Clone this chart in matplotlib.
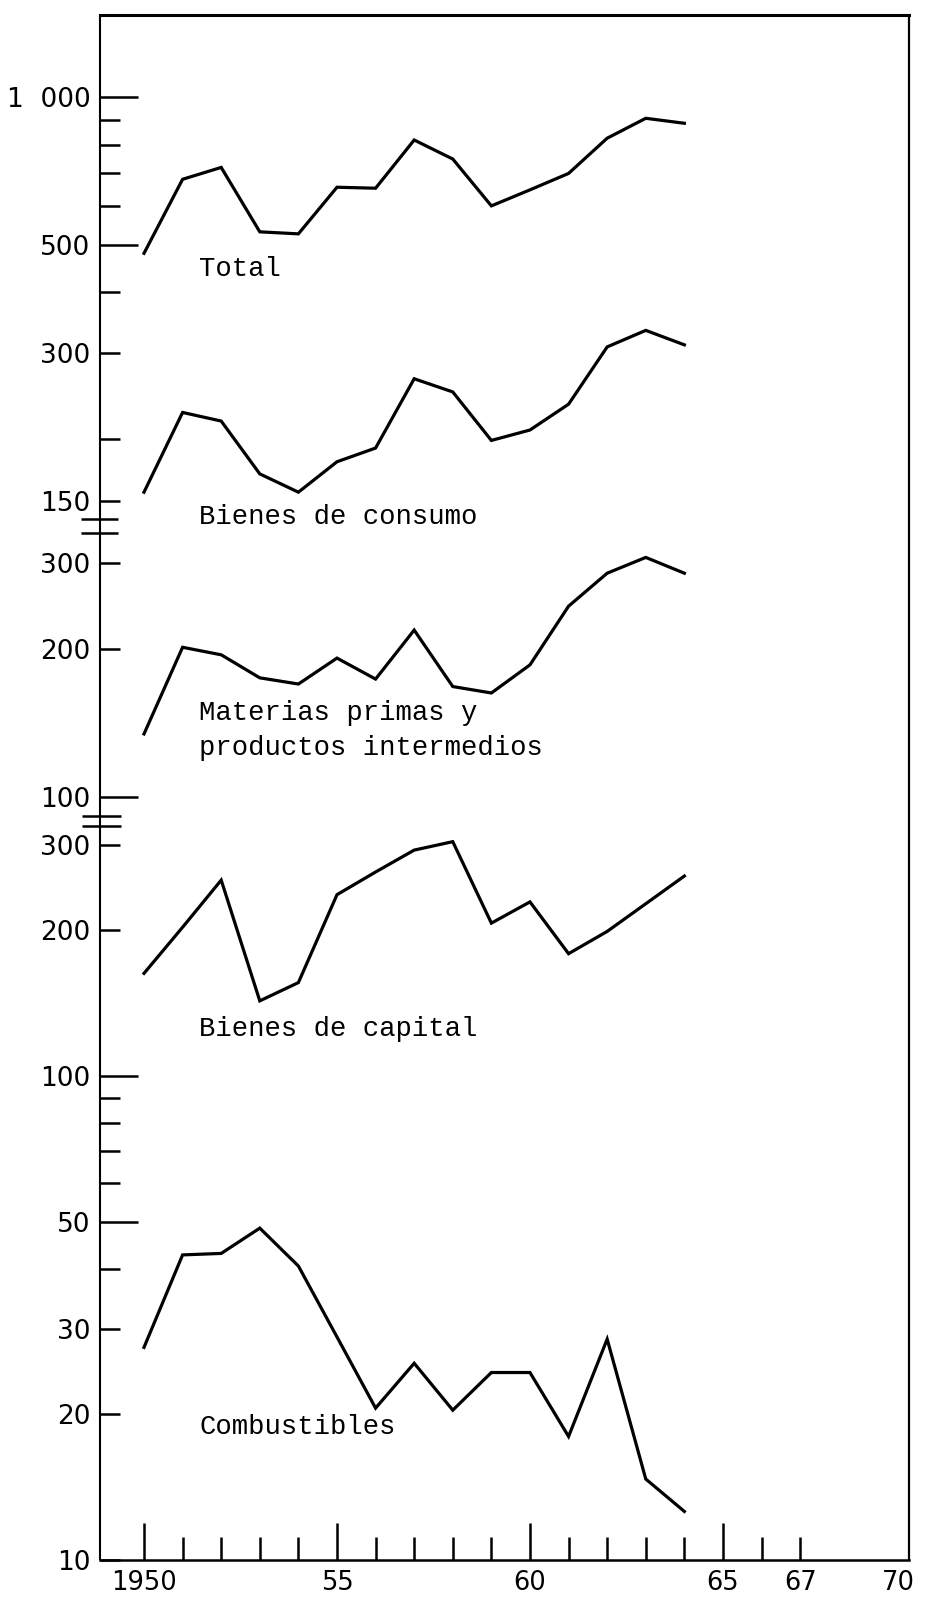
import matplotlib
matplotlib.use("Agg")
import matplotlib.pyplot as plt
from matplotlib.lines import Line2D

# ---------------- data ----------------
years = [1950, 1951, 1952, 1953, 1954, 1955, 1956, 1957, 1958, 1959,
         1960, 1961, 1962, 1963, 1964]

total = [480, 680, 719, 531, 526, 655, 652, 818, 748, 600,
         647, 699, 825, 906, 885]
bienes_consumo = [156, 227, 218, 170, 156, 180, 192, 266, 250, 199,
                  209, 236, 309, 334, 312]
materias_primas = [134.5, 202, 195, 175, 170, 192, 174, 219, 168, 163,
                   186, 245, 286, 308, 286]
bienes_capital = [163, 203, 254, 143, 156, 237, 264, 293, 305, 207,
                  229, 179, 199, 227, 259]
combustibles = [27.5, 42.7, 43.0, 48.5, 40.5, 28.9, 20.6, 25.5, 20.4, 24.4,
                24.4, 18.0, 28.6, 14.7, 12.6]

x_major = [1950, 1955, 1960, 1965]
x_major_labels = ["1950", "55", "60", "65"]
x_minor = [1951, 1952, 1953, 1954, 1956, 1957, 1958, 1959,
           1961, 1962, 1963, 1964, 1966, 1967]
x_minor_labels = ["", "", "", "", "", "", "", "", "", "", "", "", "", "67"]

label_total = "Total"
label_consumo = "Bienes de consumo"
label_materias = ["Materias primas y", "productos intermedios"]
label_capital = "Bienes de capital"
label_combust = "Combustibles"

# ---------------- layout helpers (pixels -> figure fraction) ----------------
W, H = 925, 1600
def fx(px):
    return px / W
def fy(py):
    return 1 - py / H

fig = plt.figure(figsize=(W / 100, H / 100), dpi=100)
fig.patch.set_facecolor("white")

L, R = 100, 909
TOP = 15
A_bot, B_top, B_bot, C_top, C_bot = 519, 533, 816, 826, 1560

axA = fig.add_axes([fx(L), fy(A_bot), fx(R - L), (A_bot - TOP) / H])
axB = fig.add_axes([fx(L), fy(B_bot), fx(R - L), (B_bot - B_top) / H])
axC = fig.add_axes([fx(L), fy(C_bot), fx(R - L), (C_bot - C_top) / H])

XLIM = (1948.86, 1969.82)
ylims = {axA: (137.5, 1473), axB: (91.5, 345.4), axC: (10, 328.6)}

LW = 2.3
TLS = 19
mono = ["Liberation Mono", "DejaVu Sans Mono"]

for ax in (axA, axB, axC):
    ax.set_yscale("log")
    ax.set_xlim(*XLIM)
    ax.set_ylim(*ylims[ax])
    ax.set_facecolor("none")
    for s in ("left", "right", "top", "bottom"):
        ax.spines[s].set_visible(False)
    ax.tick_params(axis="y", which="major", direction="in", length=27,
                   width=1.8, pad=7, labelsize=TLS, colors="black")
    ax.tick_params(axis="y", which="minor", direction="in", length=14.5,
                   width=1.8, pad=7, labelsize=TLS, colors="black")

axA.spines["top"].set_visible(True)
axA.spines["top"].set_linewidth(2.2)
axC.spines["bottom"].set_visible(True)
axC.spines["bottom"].set_linewidth(1.8)

# panel A : Total and Bienes de consumo
axA.plot(years, total, color="black", lw=LW, solid_joinstyle="miter")
axA.plot(years, bienes_consumo, color="black", lw=LW, solid_joinstyle="miter")
axA.set_yticks([1000, 500], ["1  000", "500"])
axA.set_yticks([900, 800, 700, 600, 400, 300, 200, 150],
               ["", "", "", "", "", "300", "", "150"], minor=True)

# panel B : Materias primas
axB.plot(years, materias_primas, color="black", lw=LW, solid_joinstyle="miter")
axB.set_yticks([100], ["100"])
axB.set_yticks([300, 200], ["300", "200"], minor=True)

# panel C : Bienes de capital and Combustibles
axC.plot(years, bienes_capital, color="black", lw=LW, solid_joinstyle="miter")
axC.plot(years, combustibles, color="black", lw=LW, solid_joinstyle="miter")
axC.set_yticks([100, 50], ["100", "50"])
axC.set_yticks([300, 200, 90, 80, 70, 60, 40, 30, 20, 10],
               ["300", "200", "", "", "", "", "", "30", "20", "10"], minor=True)

for ax in (axA, axB):
    ax.tick_params(axis="x", which="both", bottom=False, labelbottom=False)

axC.set_xticks(x_major, x_major_labels)
axC.set_xticks(x_minor, x_minor_labels, minor=True)
axC.tick_params(axis="x", which="major", direction="in", length=26.5,
                width=1.8, pad=7, labelsize=18.5)
axC.tick_params(axis="x", which="minor", direction="in", length=16.5,
                width=1.8, pad=7, labelsize=18.5)
axC.annotate("70", xy=(1969.55, 0), xycoords=axC.get_xaxis_transform(),
             xytext=(0, -7), textcoords="offset points",
             ha="center", va="top", fontsize=18.5, annotation_clip=False)

# series labels (typewriter style)
FS = 19.6
axA.text(1951.43, 431, label_total, fontsize=FS, family=mono, va="baseline")
axA.text(1951.43, 134.3, label_consumo, fontsize=FS, family=mono,
         va="baseline", clip_on=False)
axB.text(1951.43, 143.6, label_materias[0], fontsize=FS, family=mono, va="baseline")
axB.text(1951.43, 122.0, label_materias[1], fontsize=FS, family=mono, va="baseline")
axC.text(1951.43, 120.9, label_capital, fontsize=FS, family=mono, va="baseline")
axC.text(1951.43, 18.2, label_combust, fontsize=FS, family=mono, va="baseline")

# frame lines and axis-break marks
def fline(x0, x1, y0, y1, lw):
    fig.add_artist(Line2D([fx(x0), fx(x1)], [fy(y0), fy(y1)],
                          color="black", lw=lw, solid_capstyle="butt"))

fline(L, L, TOP, C_bot, 1.5)      # left axis
fline(R, R, TOP, C_bot, 1.6)      # right border
for yb in (519, 533):
    fline(81, 118, yb, yb, 1.8)
for yb in (816, 826):
    fline(82, 121, yb, yb, 1.8)

fig.savefig("out.png", dpi=100, facecolor="white")
